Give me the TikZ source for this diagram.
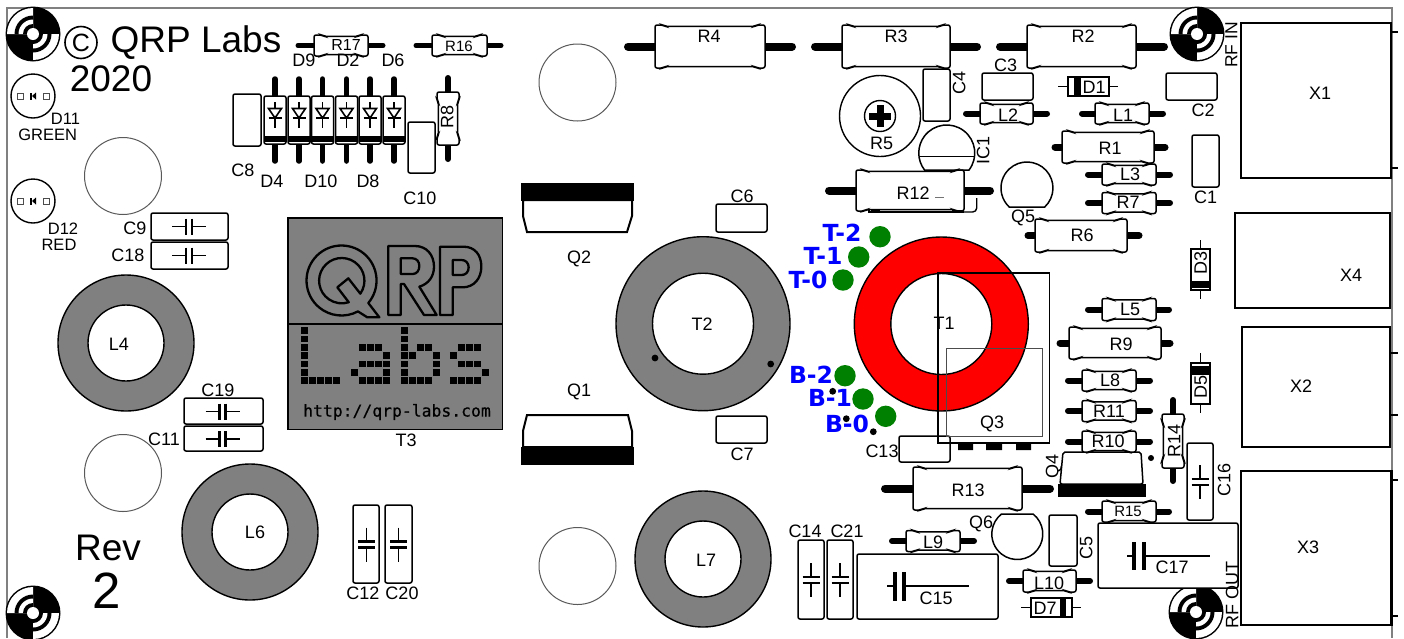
\documentclass[tikz,border=0pt]{standalone}
\usepackage{fontspec}
\setmainfont{Liberation Sans}
\newfontfamily\djv{DejaVu Sans}
\newfontfamily\djm[FakeBold=0.5]{DejaVu Sans Mono}
\definecolor{core}{HTML}{808080}
\definecolor{pad}{HTML}{008000}
\newcounter{lb}
% text: [rotation]{x}{y}{size}{text}; centred on cap height
\newcommand\lbl[5][0]{\stepcounter{lb}\node[rotate=#1,inner sep=0pt] (t\thelb) at (#2,#3) {\fontsize{#4}{#4}\selectfont\rule{0pt}{.716em}\smash{#5}};}
\tikzset{
  part/.style={draw=black,fill=white,line width=1.5pt,rounded corners=2pt},
  sharp/.style={draw=black,fill=white,line width=1.5pt},
  wire/.style={draw=black,line width=#1,line cap=round},
  fine/.style={draw=black,line width=1.4pt},
  hole/.style={draw=black!65,line width=1pt,fill=white},
  block/.style={draw=black,fill=white,line width=2.4pt},
  pin/.style={draw=black,line width=2pt},
  padspot/.style={fill=pad,draw=none},
  spot/.style={fill=black,draw=none},
  logo/.style={draw=black,line width=2.3pt,line join=round}
}
% axial part body: {x1}{x2}{cy}{half height}{lead left}{lead right}{lead width}
\newcommand\axial[7]{
  \draw[wire=#7] (#5,#3) -- (#6,#3);
  \path[part] (#1,{#3-#4}) -- ({#1+8},{#3-#4}) -- ({#1+10},{#3-#4+1.3}) -- ({#2-10},{#3-#4+1.3}) -- ({#2-8},{#3-#4}) -- (#2,{#3-#4}) -- (#2,{#3+#4}) -- ({#2-8},{#3+#4}) -- ({#2-10},{#3+#4-1.3}) -- ({#1+10},{#3+#4-1.3}) -- ({#1+8},{#3+#4}) -- (#1,{#3+#4}) -- cycle;
}
\newcommand\axialV[7]{\begin{scope}[cm={0,1,1,0,(0,0)}]\axial{#1}{#2}{#3}{#4}{#5}{#6}{#7}\end{scope}}
\newcommand\cbox[4]{\path[part] (#1,#2) rectangle (#3,#4);}
% small capacitor symbols
\newcommand\capH[2]{
  \draw[fine] ({#1-17},#2) -- ({#1-3},#2) ({#1+3},#2) -- ({#1+17},#2);
  \draw[line width=2.6pt] ({#1-3},{#2-8}) -- ({#1-3},{#2+8}) ({#1+3},{#2-8}) -- ({#1+3},{#2+8});
}
\newcommand\capV[2]{
  \draw[fine] (#1,{#2-17}) -- (#1,{#2-3}) (#1,{#2+3}) -- (#1,{#2+17});
  \draw[line width=2.6pt] ({#1-8.5},{#2-3}) -- ({#1+8.5},{#2-3}) ({#1-8.5},{#2+3}) -- ({#1+8.5},{#2+3});
}
% glass diode on the row
\newcommand\diodeV[1]{
  \draw[wire=5.5pt] (#1,79) -- (#1,161);
  \path[part] ({#1-11},96) rectangle ({#1+11},144);
  \fill[black] ({#1-11},136) rectangle ({#1+11},141.5);
  \draw[fine,line width=1.6pt] (#1,102) -- (#1,128);
  \draw[fine,fill=white,line width=1.6pt] ({#1-6.5},108.5) -- ({#1+6.5},108.5) -- (#1,118) -- cycle;
  \draw[line width=1.8pt] ({#1-6.5},118) -- ({#1+6.5},118);
}
% mounting target: solid upper right and lower left, rings upper left and lower right
\newcommand\target[2]{
  \begin{scope}[shift={(#1,#2)}]
    \fill[black] (0,0) circle[radius=27.5pt];
    \begin{scope}
      \clip (-30,-30) rectangle (0,0) (0,0) rectangle (30,30);
      \fill[white] (0,0) circle[radius=26pt];
      \fill[black] (0,0) circle[radius=18.5pt];
      \fill[white] (0,0) circle[radius=14.5pt];
      \fill[black] (0,0) circle[radius=10pt];
    \end{scope}
    \fill[white] (0,0) circle[radius=6pt];
  \end{scope}
}
\newcommand\ledc[2]{
  \begin{scope}[shift={(#1,#2)}]
    \draw[fill=white,line width=1.4pt] (0,0) circle[radius=22pt];
    \draw[black!70,line width=.9pt] (-16,-3) rectangle (-10,3) (10,-3) rectangle (16,3);
    \fill[black] (-3,-3.5) rectangle (-1,3.5);
    \fill[black] (3,-3.5) -- (3,3.5) -- (-1,0) -- cycle;
  \end{scope}
}
\newcommand\toroid[4]{
  \path[draw=black,line width=1.4pt,fill=#4,even odd rule] (#1,#2) circle[radius=#3 pt] (#1,#2) circle[radius=38pt];
}
\begin{document}
\begin{tikzpicture}[x=1pt,y=1pt,yscale=-1]
\clip (0,0) rectangle (1404,638);
\fill[white] (0,0) rectangle (1404,638);
% board edge
\draw[core,line width=2pt] (7,638) -- (7,8) -- (1391.5,8) -- (1391.5,638);
% holes
\foreach \hx/\hy in {123/176,123/473,577.5/82.5,577.5/566}{\draw[hole] (\hx,\hy) circle[radius=38.5pt];}
% mounting targets
\target{33}{34}\target{1197}{34}\target{33}{613}\target{1196}{612}
% copyright
\draw[line width=1.6pt] (81,42.5) circle[radius=16pt];
% LEDs
\ledc{33}{96}\ledc{33}{201}
% toroids
\toroid{126}{343}{68}{core}
\toroid{250}{532}{68}{core}
\toroid{703}{559}{68}{core}
\path[draw=black,line width=1.4pt,fill=core,even odd rule] (703,323.7) circle[radius=87pt] (703,323.7) circle[radius=50.5pt];
\fill[spot] (655,358) circle[radius=3.4pt] (770.7,364) circle[radius=3.4pt];
\path[draw=black,line width=1.4pt,fill=red,even odd rule] (941.3,324) circle[radius=87pt] (941.3,324) circle[radius=50.5pt];
% transformer pads
\fill[padspot] (880,236.7) circle[radius=10.7pt] (858.7,257) circle[radius=10.7pt] (843,280) circle[radius=10.7pt] (845,375.7) circle[radius=10.7pt] (863,399) circle[radius=10.7pt] (885.7,416.3) circle[radius=10.7pt];
\fill[spot] (832.7,391.3) circle[radius=3.4pt] (846.3,418.7) circle[radius=3.4pt] (873.3,431.7) circle[radius=3.4pt];
% T3 logo block
\path[draw=black,fill=core,line width=1.6pt] (288,218) rectangle (502.5,429.5);
\draw[line width=1.5pt] (288,324) -- (502.5,324);
\begin{scope}[shift={(280,210)},scale=0.33333]
  \draw[logo] (265,279) arc[start angle=40,end angle=-298,radius=105pt] -- (262,322) -- (298,322) -- cycle;
  \draw[logo] (241,251) arc[start angle=35,end angle=-288,radius=68pt] -- (172,232) -- (205,205) -- cycle;
  \draw[logo] (325,108) -- (405,108) .. controls (440,108) and (462,135) .. (462,170) .. controls (462,200) and (445,222) .. (418,230) -- (470,315) -- (432,315) -- (372,222) -- (362,222) -- (362,315) -- (325,315) -- cycle;
  \draw[logo] (362,145) -- (398,145) .. controls (410,145) and (418,155) .. (418,168) .. controls (418,182) and (410,192) .. (398,192) -- (362,192) -- cycle;
  \draw[logo] (480,110) -- (550,110) .. controls (585,110) and (604,135) .. (604,170) .. controls (604,205) and (582,232) .. (548,232) -- (518,232) -- (518,315) -- (480,315) -- cycle;
  \draw[logo] (518,150) -- (545,150) .. controls (558,150) and (566,160) .. (566,172) .. controls (566,185) and (558,195) .. (545,195) -- (518,195) -- cycle;
  % dot-matrix "Labs"
  \foreach \ox/\cl in {63/{0/0,0/1,0/2,0/3,0/4,0/5,0/6,1/6,2/6,3/6,4/6},
      213/{1/2,2/2,3/2,4/3,1/4,2/4,3/4,4/4,0/5,4/5,1/6,2/6,3/6,4/6},
      362/{0/0,0/1,0/2,2/2,3/2,0/3,1/3,4/3,0/4,4/4,0/5,4/5,0/6,1/6,2/6,3/6},
      510/{1/2,2/2,3/2,0/3,1/4,2/4,3/4,4/5,0/6,1/6,2/6,3/6}}{
    \foreach \cx/\cy in \cl {
      \fill[black] ({\ox+24.3*\cx},{352+25*\cy}) rectangle ({\ox+24.3*\cx+21},{352+25*\cy+20});
    }
  }
\end{scope}
% Q1, Q2
\path[sharp,line width=2pt] (523,200) -- (523,216) -- (527,232) -- (627,232) -- (632,216) -- (632,200) -- cycle;
\fill[black] (521,183) rectangle (634,200.5);
\path[sharp,line width=2pt] (523,447) -- (523,431) -- (527,415) -- (628,415) -- (632,431) -- (632,447) -- cycle;
\fill[black] (521,447) rectangle (634,465);
% capacitors, plain
\cbox{716}{204}{767}{232}
\cbox{716}{416}{767}{443}
\cbox{233}{94}{261}{146}
\cbox{408}{122}{435}{173}
\cbox{923}{69}{950}{121}
\cbox{982}{73}{1033}{100}
\cbox{1166}{73}{1217}{100}
\cbox{1192}{135}{1219}{187}
\cbox{1049}{515}{1077}{566}
% capacitors with symbols
\cbox{151}{213}{228}{240}\capH{189}{226.7}
\cbox{151}{242}{228}{269}\capH{189}{255.5}
\cbox{184}{398}{263}{424}\capH{222.5}{411.5}
\cbox{184}{426}{263}{451}\capH{222.5}{439}
\cbox{353}{505}{379}{583}\capV{366.5}{544.5}
\cbox{385}{505}{412}{583}\capV{398.5}{544.5}
\cbox{798}{540}{824}{619}\capV{811}{580}
\cbox{827}{540}{853}{619}\capV{840}{580}
\cbox{1187}{443}{1213}{520}\capV{1200}{482}
% axial resistors and inductors
\axial{314}{368}{45.5}{10.5}{298}{383}{5pt}
\axial{432}{487}{45.5}{10.5}{416}{501}{5pt}
\axial{655}{765}{46.5}{21.5}{628}{792}{8pt}
\axial{842}{950}{46.5}{21.5}{815}{977}{8pt}
\axial{1027}{1136}{46.5}{21.5}{1000}{1164}{8pt}
\axial{980}{1033}{113.5}{10.5}{966}{1047}{6pt}
\axial{1095}{1149}{113.5}{10.5}{1082}{1163}{6pt}
\axial{1062}{1154}{147}{16}{1055}{1165}{7pt}
\axial{1102}{1156}{174.5}{10.5}{1088}{1170}{6pt}
\axial{1102}{1156}{203}{10.5}{1088}{1170}{6pt}
\axial{1035}{1127}{235.5}{16.5}{1028}{1139}{7pt}
\axial{1102}{1156}{309.5}{11}{1088}{1169}{6pt}
\axial{1069}{1161}{343}{16}{1060}{1170}{7pt}
\axial{1082}{1136}{380.5}{10.5}{1068}{1150}{6pt}
\axial{1082}{1136}{411}{10.5}{1068}{1150}{6pt}
\axial{906}{960}{541}{10.5}{892}{974}{6pt}
\axial{1023}{1076}{581}{11}{1009}{1090}{6pt}
\axial{1102}{1156}{511.5}{10.5}{1088}{1169}{6pt}
\axialV{92}{145}{448}{11}{78}{159}{6pt}
\axialV{414}{468}{1173}{11}{400}{481}{6pt}
% diodes D4 row
\diodeV{275}\diodeV{299}\diodeV{322.5}\diodeV{346.5}\diodeV{370}\diodeV{394}
% small diodes
\draw[fine] (1058,86.5) -- (1118,86.5);
\path[sharp] (1068,77) rectangle (1109,96);
\fill[black] (1074,77) rectangle (1081,96);
\draw[fine] (1021,607.5) -- (1081,607.5);
\path[sharp] (1031,598) rectangle (1072,617);
\fill[black] (1060,598) rectangle (1066,617);
\draw[fine] (1200.5,240) -- (1200.5,299);
\path[sharp] (1191,249) rectangle (1210,290);
\fill[black] (1191,281) rectangle (1210,288);
\draw[fine] (1200.5,353) -- (1200.5,413);
\path[sharp] (1191,363) rectangle (1210,404);
\fill[black] (1191,366) rectangle (1210,375);
% trimmer R5
\draw[fine,fill=white] (880,116) circle[radius=40.5pt];
\draw[fine] (880,116) circle[radius=15.5pt];
\draw[line width=7pt] (869,116) -- (891,116) (880,105) -- (880,127);
% IC1, Q5, Q6
\path[sharp] (969,170) arc[start angle=37.4,end angle=-217.4,radius=28pt] -- cycle;
\draw[fine] (919,156.7) -- (974.5,156.7);
\path[sharp] (1044.7,207) arc[start angle=47,end angle=-227,radius=26pt] -- cycle;
\path[sharp] (1033.1,514) arc[start angle=-51.7,end angle=231.7,radius=25.5pt] -- cycle;
% part under R12
\draw[fine] (869,198) -- (869,212) -- (964,212);
\draw[fine,rounded corners=4pt] (976.7,198) -- (976.7,212) -- (964,212);
\axial{856}{964}{190.5}{20.5}{829}{990}{8pt}
\draw[line width=3pt] (871,211.5) -- (880,211.5) (952,211.5) -- (963,211.5);
\draw[black!55,line width=.9pt] (935,197) -- (944,197);
% R13
\axial{913}{1022}{488.5}{21.5}{885}{1050}{8pt}
% R10 and Q4
\path[part] (1060,484) -- (1063,452) -- (1141,452) -- (1143,484) -- cycle;
\axial{1082}{1136}{441.5}{10.5}{1068}{1150}{6pt}
\fill[black] (1058,484) rectangle (1146,497);
\fill[spot] (1151,458) circle[radius=3pt];
% C13 and Q3
\cbox{899}{436}{950}{462}
\draw[line width=1.4pt] (938,273) rectangle (1049.5,443);
\draw[black!70,line width=1pt] (946,348.5) rectangle (1042.5,436);
\fill[black] (958,443) rectangle (973,450) (986,443) rectangle (1002,450) (1016,443) rectangle (1031,450);
% big capacitors
\cbox{857}{554}{998}{619}
\draw[fine] (887,586) -- (895,586) (905,586) -- (969,586);
\draw[line width=3.6pt] (895,572) -- (895,601) (904,572) -- (904,601);
\cbox{1098}{523}{1238}{588}
\draw[fine] (1127,556) -- (1134,556) (1145,556) -- (1210,556);
\draw[line width=3.6pt] (1134,542) -- (1134,570) (1144,542) -- (1144,570);
% connectors
\path[block] (1241,23) rectangle (1391,178);
\draw[pin] (1391,32) -- (1398,32) (1391,168) -- (1398,168);
\path[block,line width=1.6pt] (1235,213) rectangle (1390,308);
\path[block] (1242,327) rectangle (1390,447);
\draw[pin] (1391,353) -- (1398,353) (1391,415) -- (1398,415);
\path[block] (1241,471) rectangle (1391.5,625);
\draw[pin] (1391,480) -- (1398,480) (1391,616) -- (1398,616);
% texts
\lbl{196}{39.5}{37}{QRP Labs}
\lbl{81}{42.5}{25}{C}
\lbl{111}{78}{37}{2020}
\lbl{108}{547}{37}{Rev}
\lbl{107}{590}{51}{2}
\lbl{65.5}{119}{16.5}{D11}
\lbl{47.7}{135}{16.5}{GREEN}
\lbl{63}{229}{16.5}{D12}
\lbl{59}{245}{16.5}{RED}
\lbl{346}{44.5}{16}{R17}
\lbl{459}{46}{15}{R16}
\lbl{304}{60}{18}{D9}\lbl{348}{60}{18}{D2}\lbl{393}{60}{18}{D6}
\lbl{272}{181}{18}{D4}\lbl{321}{181}{18}{D10}\lbl{368}{181}{18}{D8}
\lbl{243}{170}{18}{C8}\lbl{420}{198}{18}{C10}
\lbl[90]{447}{117}{18}{R8}
\lbl{135}{228}{18}{C9}\lbl{128}{255.5}{18}{C18}
\lbl{218}{390}{18}{C19}\lbl{164}{439.5}{18}{C11}
\lbl{119}{344}{18}{L4}\lbl{255}{532}{18}{L6}\lbl{706}{560}{18}{L7}\lbl{702}{324}{18}{T2}
\lbl{363}{593}{18}{C12}\lbl{402}{593}{18}{C20}
\lbl{406}{440}{18}{T3}
\node[inner sep=0pt] (url) at (397,412) {\fontsize{16.4}{16.4}\selectfont\djm http://qrp-labs.com};
\lbl{579}{257}{18}{Q2}\lbl{579}{390}{18}{Q1}
\lbl{742}{196}{18}{C6}\lbl{742}{454}{18}{C7}
\lbl{709}{36}{18}{R4}\lbl{896}{36}{18}{R3}\lbl{1083}{36}{18}{R2}
\lbl{881.5}{143}{18}{R5}
\lbl[90]{959}{83}{18}{C4}
\lbl{1005.5}{65}{18}{C3}\lbl{1094}{87}{18}{D1}
\lbl{1008}{115}{18}{L2}\lbl{1123}{115}{18}{L1}
\lbl{1203}{110}{18}{C2}\lbl{1205.5}{197}{18}{C1}
\lbl{1110}{148}{18}{R1}\lbl{1130}{174}{18}{L3}\lbl{1128}{202}{18}{R7}
\lbl[90]{983}{150}{18}{IC1}
\lbl{913}{193}{18}{R12}
\lbl{1023}{216}{18}{Q5}\lbl{1082}{235}{18}{R6}
\lbl{944}{323.5}{18}{T1}\lbl{992}{422}{18}{Q3}
\lbl{882}{451}{18}{C13}
\lbl{1130}{309}{18}{L5}\lbl{1121}{344}{18}{R9}
\lbl{1110}{380}{18}{L8}\lbl{1109}{411}{18}{R11}\lbl{1108}{441}{18}{R10}
\lbl[90]{1174}{441}{18}{R14}
\lbl[90]{1200.5}{387}{18}{D5}\lbl[90]{1200.5}{263}{18}{D3}
\lbl[90]{1224}{480}{18}{C16}
\lbl[90]{1052}{466}{18}{Q4}
\lbl{1128}{511}{15}{R15}
\lbl{1172}{567}{18}{C17}
\lbl[90]{1086}{548}{18}{C5}
\lbl[90]{1232}{595}{18}{RF OUT}
\lbl[90]{1231}{45}{17.5}{RF IN}
\lbl{968}{490}{18}{R13}\lbl{933}{542}{18}{L9}
\lbl{981}{522}{18}{Q6}
\lbl{805}{531}{18}{C14}\lbl{847}{531}{18}{C21}
\lbl{936}{598}{18}{C15}
\lbl{1049}{583}{18}{L10}\lbl{1045}{608}{18}{D7}
\lbl{1320}{93}{18}{X1}\lbl{1351}{275}{18}{X4}\lbl{1301}{386}{18}{X2}\lbl{1308}{547}{18}{X3}
% blue pad names
\foreach \nm/\px/\py in {T-2/842/233,T-1/823/256,T-0/808/280,B-2/811/375,B-1/830/398,B-0/847/424}{
  \node[inner sep=0pt,text=blue] (pad\nm) at (\px,\py) {\fontsize{23.5}{23.5}\selectfont\djv\bfseries\rule{0pt}{.73em}\smash{\nm}};
}
\end{tikzpicture}
\end{document}
